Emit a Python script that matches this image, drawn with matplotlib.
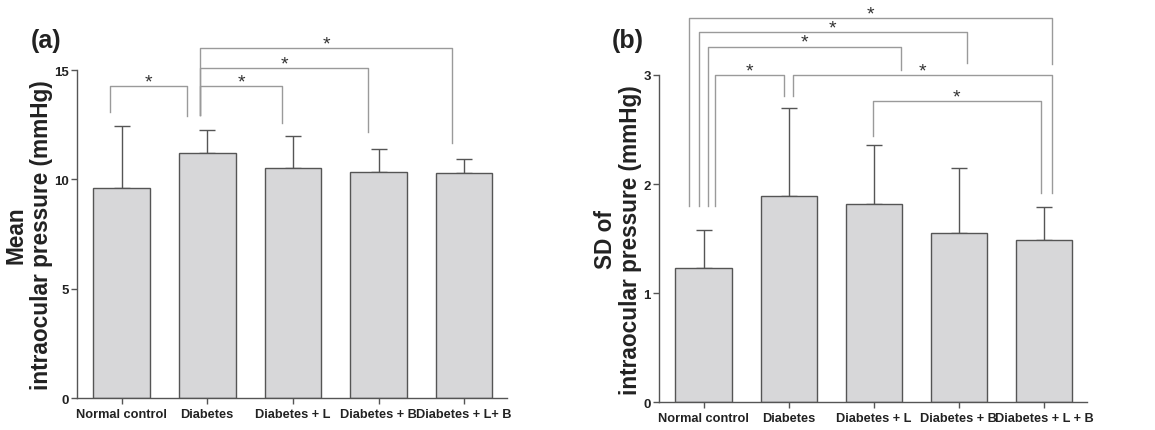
import matplotlib
matplotlib.use('Agg')
import matplotlib.pyplot as plt
import matplotlib.transforms as mtransforms
import numpy as np

groups = ['Normal control', 'Diabetes', 'Diabetes + L', 'Diabetes + B', 'Diabetes + L + B']
groups_a = ['Normal control', 'Diabetes', 'Diabetes + L', 'Diabetes + B', 'Diabetes + L+ B']

mean_iop = [9.6, 11.2, 10.53, 10.35, 10.3]
mean_iop_err = [2.84, 1.07, 1.45, 1.02, 0.63]

sd_iop = [1.228, 1.894, 1.815, 1.552, 1.488]
sd_iop_err = [0.352, 0.801, 0.543, 0.598, 0.302]

# brackets: x_left, x_right, y_top, y_left_bottom, y_right_bottom
brackets_a = [
    (-0.14, 0.76, 14.28, 13.1, 12.9),
    (0.92, 1.87, 14.28, 12.93, 12.57),
    (0.92, 2.88, 15.09, 12.93, 12.15),
    (0.92, 3.86, 15.99, 12.93, 11.64),
]
brackets_b = [
    (0.138, 0.94, 3.0, 1.796, 2.81),
    (0.047, 2.32, 3.26, 1.796, 3.05),
    (-0.05, 3.09, 3.39, 1.796, 3.11),
    (-0.17, 4.09, 3.52, 1.796, 3.10),
    (1.055, 4.09, 3.0, 2.81, 1.916),
    (1.99, 3.96, 2.76, 2.44, 1.916),
]

# small horizontal nudges of the tick labels (pixels), as in the original
shift_a = [4.5, -1, -1, -3.5, 3]
shift_b = [5, 0, -2, -3.5, 3.5]

font = ['Liberation Sans', 'DejaVu Sans']
bar_color = '#d7d7d9'
edge_color = '#555555'
br_color = '#9a9a9a'

fig = plt.figure(figsize=(11.55, 4.31), dpi=100)
ax1 = fig.add_axes([0.0667, 0.0742, 0.3723, 0.7610])
ax2 = fig.add_axes([0.5708, 0.0643, 0.3700, 0.7594])


def draw_panel(ax, vals, errs, labels, shifts, brackets, ymax, yticks, ylabel, lab_x, tag):
    x = np.arange(len(vals))
    ax.bar(x, vals, width=0.66, color=bar_color, edgecolor=edge_color, linewidth=1.0, zorder=2)
    ax.errorbar(x, vals, yerr=[np.zeros(len(errs)), errs], fmt='none', ecolor=edge_color,
                elinewidth=1.0, capsize=5.5, capthick=1.0, zorder=1)
    ax.set_xlim(-0.52, 4.5)
    ax.set_ylim(0, ymax)
    ax.set_yticks(yticks)
    ax.set_xticks(x)
    ax.set_xticklabels(labels)
    for lab, dx in zip(ax.get_xticklabels(), shifts):
        lab.set_family(font)
        lab.set_fontweight('bold')
        lab.set_fontsize(9.2)
        lab.set_color('#222222')
        off = mtransforms.ScaledTranslation(dx / 100, 0, fig.dpi_scale_trans)
        lab.set_transform(lab.get_transform() + off)
    for lab in ax.get_yticklabels():
        lab.set_family(font)
        lab.set_fontweight('bold')
        lab.set_fontsize(9.5)
        lab.set_color('#222222')
    ax.tick_params(axis='x', direction='out', length=4, width=1.0, color=edge_color, pad=3)
    ax.tick_params(axis='y', direction='out', length=4, width=1.0, color=edge_color, pad=2)
    for s in ['top', 'right']:
        ax.spines[s].set_visible(False)
    for s in ['left', 'bottom']:
        ax.spines[s].set_color(edge_color)
        ax.spines[s].set_linewidth(1.0)
    ax.set_ylabel(ylabel, fontsize=16.3, fontweight='bold', family=font,
                  linespacing=1.1, color='#222222')
    ax.yaxis.set_label_coords(lab_x, 0.5)

    for xl, xr, yt, ylb, yrb in brackets:
        ax.plot([xl, xl, xr, xr], [ylb, yt, yt, yrb], color=br_color, lw=1.0,
                clip_on=False, zorder=3)
        ax.annotate('*', xy=((xl + xr) / 2, yt), xytext=(0, 3), textcoords='offset points',
                    ha='center', va='center', fontsize=14, color='#333333', family=font,
                    annotation_clip=False)

    ax.text(tag[0], tag[1], tag[2], transform=fig.transFigure, fontsize=18, fontweight='bold',
            family=font, ha='left', va='center', color='#222222')


draw_panel(ax1, mean_iop, mean_iop_err, groups_a, shift_a, brackets_a, 15, [0, 5, 10, 15],
           'Mean\nintraocular pressure (mmHg)', -0.057, (0.027, 0.905, '(a)'))
draw_panel(ax2, sd_iop, sd_iop_err, groups, shift_b, brackets_b, 3, [0, 1, 2, 3],
           'SD of\nintraocular pressure (mmHg)', -0.040, (0.530, 0.905, '(b)'))

fig.savefig('out.png', dpi=100)
